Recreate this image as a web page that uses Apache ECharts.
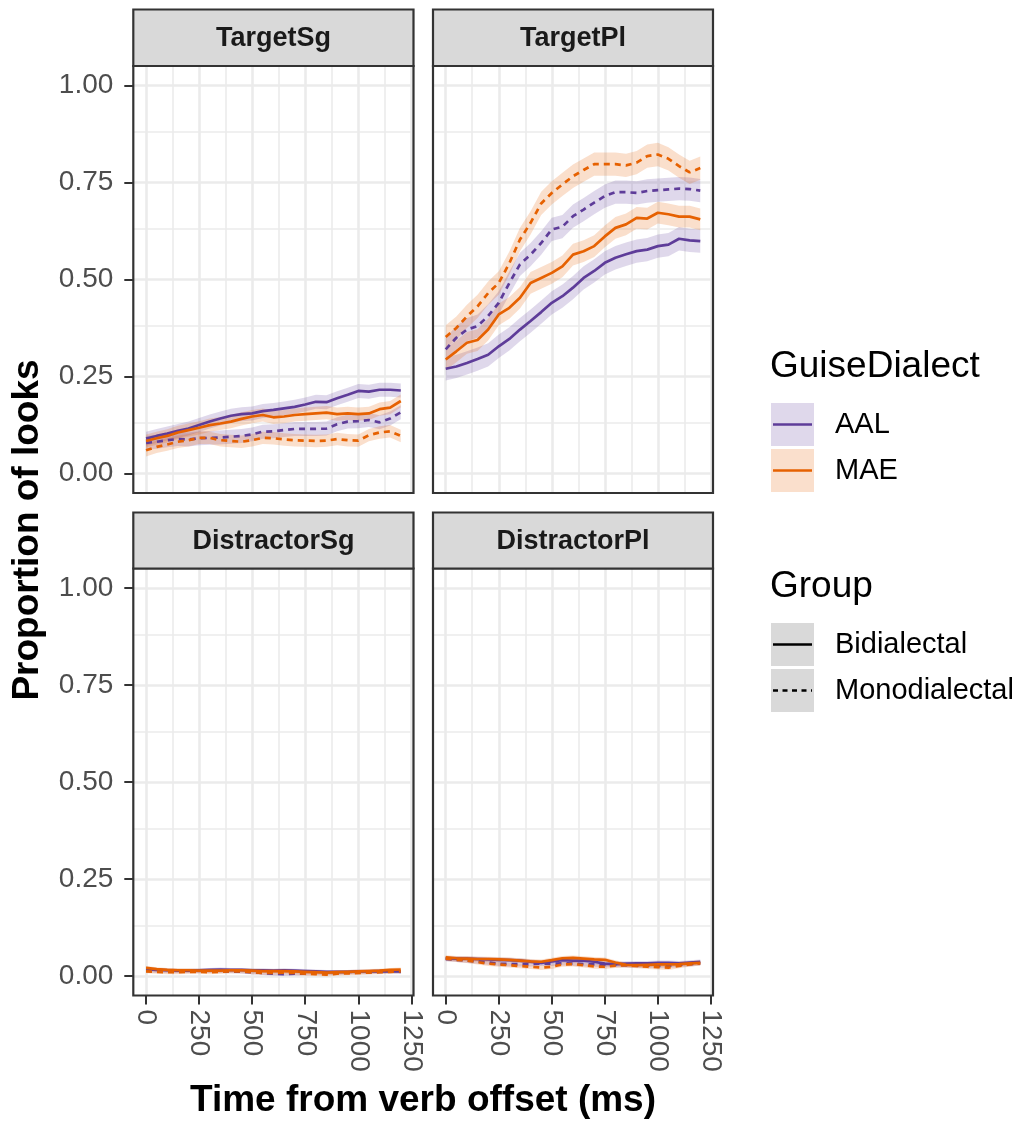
<!DOCTYPE html>
<html>
<head>
<meta charset="utf-8">
<title>Proportion of looks by GuiseDialect and Group</title>
<script src="https://cdn.jsdelivr.net/npm/echarts@6/dist/echarts.min.js"></script>
<style>
  html, body { margin: 0; padding: 0; background: #fff; }
  #container { width: 1020px; height: 1125px; }
</style>
</head>
<body>
<div id="container"></div>
<script>
// time bins (ms from verb offset)
var timeMs = [0, 50, 100, 150, 200, 250, 300, 350, 400, 450, 500, 550, 600,
              650, 700, 750, 800, 850, 900, 950, 1000, 1050, 1100, 1150, 1200];

var panelNames = ['TargetSg', 'TargetPl', 'DistractorSg', 'DistractorPl'];
var yTicks = [0, 0.25, 0.5, 0.75, 1];
var yMinor = [0.125, 0.375, 0.625, 0.875];
var xTicks = [0, 250, 500, 750, 1000, 1250];
var xMinor = [125, 375, 625, 875, 1125];

// TargetSg
var targetSgAALBi   = [0.090,0.097,0.103,0.110,0.116,0.125,0.134,0.142,0.149,0.153,0.155,0.161,0.164,0.168,0.172,0.178,0.185,0.184,0.194,0.203,0.213,0.211,0.216,0.216,0.214];
var targetSgAALMono = [0.079,0.082,0.086,0.089,0.088,0.091,0.092,0.093,0.095,0.097,0.101,0.108,0.109,0.112,0.115,0.115,0.115,0.116,0.127,0.134,0.135,0.138,0.132,0.142,0.158];
var targetSgMAEBi   = [0.084,0.091,0.097,0.106,0.112,0.118,0.125,0.129,0.134,0.141,0.147,0.151,0.145,0.147,0.151,0.153,0.155,0.157,0.153,0.155,0.153,0.155,0.166,0.170,0.187];
var targetSgMAEMono = [0.060,0.069,0.075,0.082,0.086,0.092,0.092,0.086,0.084,0.082,0.086,0.092,0.091,0.088,0.086,0.085,0.084,0.085,0.089,0.086,0.085,0.099,0.106,0.109,0.097];

// TargetPl
var targetPlAALBi   = [0.270,0.276,0.285,0.295,0.306,0.328,0.347,0.371,0.393,0.416,0.440,0.457,0.479,0.504,0.522,0.543,0.556,0.565,0.573,0.577,0.586,0.590,0.605,0.601,0.599];
var targetPlAALMono = [0.320,0.350,0.371,0.380,0.406,0.440,0.491,0.539,0.564,0.594,0.629,0.636,0.663,0.680,0.698,0.715,0.725,0.725,0.723,0.728,0.730,0.732,0.734,0.733,0.729];
var targetPlMAEBi   = [0.294,0.315,0.337,0.344,0.371,0.410,0.427,0.453,0.491,0.504,0.517,0.534,0.564,0.573,0.586,0.611,0.633,0.642,0.659,0.657,0.672,0.668,0.662,0.662,0.655];
var targetPlMAEMono = [0.352,0.375,0.405,0.431,0.465,0.491,0.542,0.603,0.646,0.696,0.723,0.745,0.766,0.782,0.797,0.797,0.797,0.794,0.801,0.818,0.822,0.811,0.792,0.776,0.787];

// DistractorSg
var distractorSgAALBi   = [0.018,0.016,0.015,0.014,0.014,0.015,0.016,0.017,0.016,0.016,0.015,0.015,0.014,0.015,0.014,0.013,0.012,0.011,0.011,0.011,0.012,0.012,0.013,0.012,0.012];
var distractorSgAALMono = [0.014,0.013,0.012,0.012,0.012,0.013,0.013,0.012,0.012,0.011,0.010,0.008,0.006,0.005,0.006,0.007,0.008,0.008,0.008,0.009,0.010,0.010,0.011,0.012,0.011];
var distractorSgMAEBi   = [0.021,0.018,0.016,0.015,0.015,0.014,0.014,0.014,0.015,0.015,0.014,0.013,0.013,0.013,0.012,0.011,0.010,0.009,0.010,0.011,0.012,0.013,0.014,0.016,0.017];
var distractorSgMAEMono = [0.012,0.011,0.010,0.010,0.011,0.011,0.010,0.011,0.012,0.012,0.010,0.008,0.008,0.009,0.008,0.006,0.005,0.004,0.006,0.007,0.008,0.009,0.010,0.011,0.012];

// DistractorPl
var distractorPlAALBi   = [0.046,0.045,0.045,0.044,0.043,0.042,0.041,0.040,0.037,0.034,0.038,0.041,0.040,0.040,0.037,0.032,0.031,0.032,0.033,0.033,0.034,0.034,0.033,0.035,0.037];
var distractorPlAALMono = [0.044,0.042,0.040,0.038,0.035,0.032,0.031,0.031,0.031,0.032,0.032,0.033,0.032,0.031,0.030,0.029,0.029,0.028,0.027,0.027,0.026,0.027,0.029,0.031,0.033];
var distractorPlMAEBi   = [0.048,0.046,0.045,0.044,0.044,0.043,0.042,0.040,0.038,0.037,0.041,0.046,0.047,0.045,0.043,0.042,0.035,0.029,0.028,0.029,0.030,0.030,0.031,0.033,0.034];
var distractorPlMAEMono = [0.045,0.042,0.040,0.036,0.032,0.030,0.028,0.026,0.024,0.022,0.024,0.030,0.031,0.028,0.025,0.024,0.027,0.028,0.026,0.024,0.023,0.022,0.026,0.030,0.033];

// ribbon half widths (per panel: AAL Bi, AAL Mono, MAE Bi, MAE Mono)
var ribbonHalf = [
  [0.018, 0.018, 0.017, 0.016],
  [0.030, 0.030, 0.028, 0.030],
  [0.005, 0.005, 0.005, 0.005],
  [0.006, 0.006, 0.006, 0.006]
];

var panelData = [
  [targetSgAALBi, targetSgAALMono, targetSgMAEBi, targetSgMAEMono],
  [targetPlAALBi, targetPlAALMono, targetPlMAEBi, targetPlMAEMono],
  [distractorSgAALBi, distractorSgAALMono, distractorSgMAEBi, distractorSgMAEMono],
  [distractorPlAALBi, distractorPlAALMono, distractorPlMAEBi, distractorPlMAEMono]
];

var purple = '#5e3c99', orange = '#e66101';
var lineColors = [purple, purple, orange, orange];
var bandColors = ['rgba(94,60,153,0.2)', 'rgba(94,60,153,0.2)', 'rgba(230,97,1,0.2)', 'rgba(230,97,1,0.2)'];
var dashed = [false, true, false, true];
var FONT = '"Liberation Sans", Arial, sans-serif';

var grids = [
  {left: 133.3, top: 66, width: 280.2, height: 427},
  {left: 433, top: 66, width: 280, height: 427},
  {left: 133.3, top: 568.5, width: 280.2, height: 427},
  {left: 433, top: 568.5, width: 280, height: 427}
];

var xAxes = [], yAxes = [], series = [], graphics = [];

grids.forEach(function (g, p) {
  var bottomRow = p >= 2, leftCol = p % 2 === 0;
  xAxes.push({
    gridIndex: p, type: 'value', min: -60, max: 1260, show: bottomRow,
    axisLine: {show: false, onZero: false}, splitLine: {show: false},
    axisTick: {show: true, inside: false, customValues: xTicks, length: 9, lineStyle: {color: '#333', width: 2}},
    axisLabel: {customValues: xTicks, rotate: -90, margin: 14, color: '#4d4d4d', fontSize: 28, fontFamily: FONT,
      formatter: function (v) { return String(v); }}
  });
  yAxes.push({
    gridIndex: p, type: 'value', min: -0.05, max: 1.05, show: leftCol,
    axisLine: {show: false, onZero: false}, splitLine: {show: false},
    axisTick: {show: true, inside: false, customValues: yTicks, length: 9, lineStyle: {color: '#333', width: 2}},
    axisLabel: {customValues: yTicks, margin: 20, color: '#4d4d4d', fontSize: 28, fontFamily: FONT,
      formatter: function (v) { return v.toFixed(2); }}
  });

  // background grid lines
  var gl = [];
  yMinor.forEach(function (v) { gl.push({yAxis: v, lineStyle: {width: 1.6}}); });
  xMinor.forEach(function (v) { gl.push({xAxis: v, lineStyle: {width: 1.6}}); });
  yTicks.forEach(function (v) { gl.push({yAxis: v, lineStyle: {width: 2.6}}); });
  xTicks.forEach(function (v) { gl.push({xAxis: v, lineStyle: {width: 2.6}}); });
  series.push({
    type: 'line', xAxisIndex: p, yAxisIndex: p, data: [], silent: true, z: 0,
    markLine: {silent: true, symbol: 'none', z: 0, animation: false, label: {show: false},
      lineStyle: {color: '#ebebeb', type: 'solid'}, emphasis: {disabled: true}, data: gl}
  });

  // ribbons
  panelData[p].forEach(function (vals, k) {
    var hw = ribbonHalf[p][k];
    series.push({
      type: 'custom', xAxisIndex: p, yAxisIndex: p, z: 2, silent: true, animation: false,
      data: timeMs.map(function (t, i) { return [t, vals[i] - hw, vals[i] + hw]; }),
      encode: {x: 0, y: [1, 2]},
      renderItem: function (params, api) {
        if (params.dataIndex !== 0) return;
        var pts = [];
        for (var i = 0; i < timeMs.length; i++) pts.push(api.coord([timeMs[i], vals[i] + hw]));
        for (var j = timeMs.length - 1; j >= 0; j--) pts.push(api.coord([timeMs[j], vals[j] - hw]));
        return {type: 'polygon', shape: {points: pts}, style: {fill: bandColors[k]}};
      }
    });
  });

  // lines
  panelData[p].forEach(function (vals, k) {
    series.push({
      type: 'line', xAxisIndex: p, yAxisIndex: p, z: 3, silent: true, animation: false,
      symbol: 'none', showSymbol: false,
      data: timeMs.map(function (t, i) { return [t, vals[i]]; }),
      lineStyle: {color: lineColors[k], width: 2.7, type: dashed[k] ? [6, 5] : 'solid'}
    });
  });

  // panel border + strip
  graphics.push({type: 'rect', z: 100, silent: true,
    shape: {x: g.left, y: g.top, width: g.width, height: g.height},
    style: {fill: 'none', stroke: '#333', lineWidth: 2.2}});
  var stripTop = p < 2 ? 9.5 : 512.5;
  graphics.push({type: 'rect', z: 100, silent: true,
    shape: {x: g.left, y: stripTop, width: g.width, height: g.top - stripTop},
    style: {fill: '#d9d9d9', stroke: '#333', lineWidth: 2.2}});
  graphics.push({type: 'text', z: 101, silent: true,
    style: {text: panelNames[p], x: g.left + g.width / 2, y: (stripTop + g.top) / 2 + 1,
      textAlign: 'center', textVerticalAlign: 'middle',
      font: 'bold 27px ' + FONT, fill: '#1a1a1a'}});
});

// axis titles
graphics.push({type: 'text', silent: true,
  style: {text: 'Time from verb offset (ms)', x: 423, y: 1101, textAlign: 'center', textVerticalAlign: 'middle',
    font: 'bold 37px ' + FONT, fill: '#000'}});
graphics.push({type: 'text', silent: true, rotation: Math.PI / 2, x: 28, y: 530,
  style: {text: 'Proportion of looks', x: 0, y: 0, textAlign: 'center', textVerticalAlign: 'middle',
    font: 'bold 37px ' + FONT, fill: '#000'}});

// legends
function legendKey(y, fill, color, dash) {
  graphics.push({type: 'rect', silent: true, shape: {x: 771, y: y, width: 43, height: 43}, style: {fill: fill}});
  graphics.push({type: 'line', silent: true, shape: {x1: 773, y1: y + 21.5, x2: 812, y2: y + 21.5},
    style: {stroke: color, lineWidth: 2.4, lineDash: dash}});
}
function legendText(txt, y, size) {
  graphics.push({type: 'text', silent: true,
    style: {text: txt, x: size > 30 ? 770 : 835, y: y, textAlign: 'left', textVerticalAlign: 'middle',
      font: size + 'px ' + FONT, fill: '#000'}});
}
legendText('GuiseDialect', 367, 37);
legendKey(403, '#dfd8eb', purple, null);
legendKey(449, '#fadfcc', orange, null);
legendText('AAL', 425, 29);
legendText('MAE', 471, 29);
legendText('Group', 587, 37);
legendKey(623, '#d9d9d9', '#000', null);
legendKey(669, '#d9d9d9', '#000', [5, 4.5]);
legendText('Bidialectal', 645, 29);
legendText('Monodialectal', 691, 29);

var chart = echarts.init(document.getElementById('container'), null, {renderer: 'canvas'});
chart.setOption({
  animation: false,
  backgroundColor: '#fff',
  grid: grids.map(function (g) { return {left: g.left, top: g.top, width: g.width, height: g.height, show: false}; }),
  xAxis: xAxes,
  yAxis: yAxes,
  series: series,
  graphic: graphics
});
</script>
</body>
</html>
